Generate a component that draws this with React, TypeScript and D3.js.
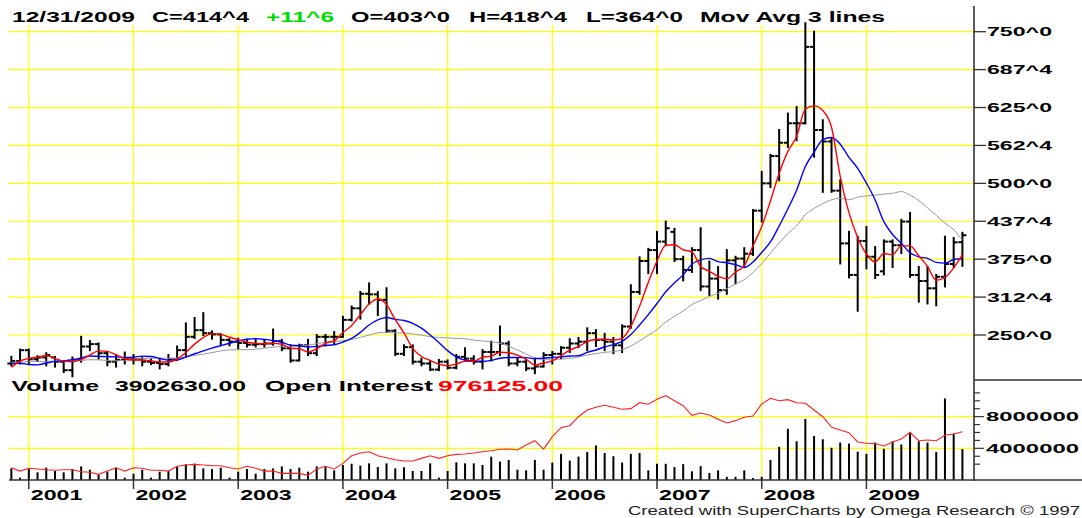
import React from 'react';
import * as d3 from 'd3';

const W = 1082;
const H = 518;

// ---- Data (monthly corn futures, Nov 2000 .. Dec 2009) ----
const opens = [203,207,225,210,213,213,206,192,209,231,235,220,206,209,
  210,210,206,204,202,210,225,247,258,253,251,242,
  239,237,234,235,236,240,228,208,233,220,247,247,
  247,275,294,318,317,308,257,219,230,206,203,193,
  206,196,214,211,206,222,222,236,203,206,195,198,
  217,219,229,236,239,253,242,239,233,264,321,372,
  390,404,420,375,357,390,330,343,324,373,376,384,
  455,500,545,567,599,599,725,588,569,488,401,349,
  405,379,355,404,398,437,349,339,327,346,367,403];
const highs = [214,226,226,215,220,214,207,213,247,240,236,221,217,221,
  217,212,210,209,217,231,269,278,286,256,251,243,
  244,242,242,242,259,242,233,234,242,250,250,255,
  280,297,321,335,321,327,258,233,233,211,206,209,
  208,217,228,215,225,239,264,239,211,209,211,220,
  222,230,243,245,261,258,252,245,266,332,378,392,
  420,437,425,379,393,426,371,362,390,379,393,456,
  519,547,588,615,626,764,750,604,574,505,420,412,
  428,395,406,406,440,451,362,362,349,412,410,418.5];
const lows = [200,203,204,207,200,198,189,182,206,225,211,200,198,203,
  203,200,202,195,200,209,214,245,250,244,233,233,
  228,231,231,231,234,225,206,208,217,217,233,236,
  247,274,277,302,283,255,217,217,203,200,192,192,
  195,195,208,203,195,208,217,200,200,192,187,198,
  203,212,222,230,225,232,225,220,222,262,318,352,
  352,398,372,340,354,324,316,310,318,335,362,382,
  437,494,505,560,571,599,544,486,486,368,345,290,
  360,344,350,362,385,346,305,302,299,330,362,364];
const closes = [207,225,210,213,217,206,192,209,231,235,220,206,209,210,
  210,206,204,202,210,225,247,258,253,251,242,239,
  237,234,235,236,240,228,208,233,220,247,247,247,
  275,294,318,317,308,257,219,230,206,203,193,206,
  196,214,211,206,222,222,236,203,206,195,198,217,
  219,229,236,239,253,242,239,233,264,321,372,390,
  404,426,375,357,390,330,343,324,373,376,384,455,
  500,545,567,599,599,725,588,569,488,401,349,405,
  379,349,404,398,437,349,339,327,346,367,402.75,414.5];
// closes before the first drawn bar (Jun 1999 .. Oct 2000), used only by the moving averages
const priorCloses = [215,200,212,210,196,196,204,214,216,222,228,218,190,181,185,193,203];
const volumes = [1470000,300000,1390000,970000,1560000,1140000,970000,1390000,1720000,1300000,710000,1050000,1560000,300000,
  800000,1300000,300000,1050000,1140000,1680000,1980000,2060000,1470000,1390000,1560000,300000,
  1050000,1390000,800000,1390000,1470000,1720000,1390000,1560000,1050000,1720000,1640000,1220000,
  1890000,2060000,1810000,2100000,1640000,2100000,1470000,1600000,1140000,1140000,2100000,300000,
  1140000,2230000,2100000,2100000,1900000,2950000,2330000,2540000,1300000,1220000,2540000,1300000,
  2200000,3300000,2460000,2950000,3530000,4360000,3410000,3000000,2200000,3300000,3410000,1220000,
  2050000,2050000,1630000,2000000,1100000,1750000,890000,1220000,400000,400000,1220000,200000,
  400000,2540000,4190000,6470000,4890000,7700000,5550000,5140000,4070000,4730000,4600000,3570000,
  3300000,4730000,3940000,4850000,4480000,5930000,4890000,4730000,3530000,10300000,5850000,3902630];
const openInterest = [454000,406000,446000,436000,425000,417000,425000,425000,396000,388000,359000,406000,454000,406000,
  454000,446000,417000,417000,406000,475000,494000,503000,494000,484000,484000,454000,
  436000,475000,446000,406000,406000,373000,373000,373000,344000,436000,475000,436000,
  518000,628000,667000,686000,628000,599000,570000,551000,551000,590000,628000,590000,
  628000,648000,653000,667000,686000,701000,721000,725000,711000,783000,846000,725000,
  904000,1034000,1063000,1193000,1290000,1330000,1359000,1330000,1301000,1310000,1396000,1373000,
  1445000,1498000,1425000,1353000,1214000,1247000,1218000,1156000,1102000,1136000,1185000,1203000,
  1377000,1460000,1425000,1440000,1396000,1387000,1290000,1193000,1040000,1001000,962000,827000,
  808000,804000,769000,827000,870000,967000,846000,856000,846000,924000,943000,976125];
const maPeriods = [18, 9, 4];
const maColors = ['#999999', '#0000ff', '#ff0000'];
const priceTicks = [250, 312.5, 375, 437.5, 500, 562.5, 625, 687.5, 750];
const volumeTicks = [4000000, 8000000];
const years = [2001, 2002, 2003, 2004, 2005, 2006, 2007, 2008, 2009];

const FONT = '"Liberation Sans", Arial, Helvetica, sans-serif';

function fmt8(v: number) {
  const a = Math.abs(v);
  const w = Math.floor(a + 1e-9);
  const f = Math.round((a - w) * 8);
  return `${v < 0 ? '-' : ''}${w}^${f}`;
}

export default function App() {
  const n = closes.length;
  const x = d3.scaleLinear().domain([0, n - 1]).range([11.35, 962.4]);
  const yP = d3.scaleLinear().domain([250, 750]).range([335, 31.7]);
  const yV = d3.scaleLinear().domain([0, 10000000]).range([480, 400.8]);
  const yOI = d3.scaleLinear().domain([300000, 1600000]).range([478.4, 388.6]);

  const allCloses = [...priorCloses, ...closes];
  const P = priorCloses.length;
  const mas = maPeriods.map((p) =>
    closes.map((_, i) => d3.mean(allCloses.slice(i + P - p + 1, i + P + 1)) as number)
  );
  const line = d3.line<number>().x((_, i) => x(i)).y((d) => yP(d)).curve(d3.curveMonotoneX);
  const oiLine = d3.line<number>().x((_, i) => x(i)).y((d) => yOI(d));

  const last = n - 1;
  const chg = closes[last] - closes[last - 1];
  const header = [
    { t: '12/31/2009', x: 12, len: 123, c: '#000' },
    { t: `C=${fmt8(closes[last])}`, x: 152, len: 97, c: '#000' },
    { t: `${chg >= 0 ? '+' : ''}${fmt8(chg)}`, x: 266, len: 68, c: '#00dd00' },
    { t: `O=${fmt8(opens[last])}`, x: 351, len: 99, c: '#000' },
    { t: `H=${fmt8(highs[last])}`, x: 469, len: 98, c: '#000' },
    { t: `L=${fmt8(lows[last])}`, x: 586, len: 97, c: '#000' },
    { t: 'Mov Avg 3 lines', x: 700, len: 185, c: '#000' },
  ];
  const volHeader = [
    { t: 'Volume', x: 11.5, len: 87.5, c: '#000' },
    { t: volumes[last].toFixed(2), x: 115, len: 131, c: '#000' },
    { t: 'Open Interest', x: 265, len: 168, c: '#000' },
    { t: openInterest[last].toFixed(2), x: 438, len: 125, c: '#ff0000' },
  ];

  const yearIdx = years.map((_, k) => 2 + 12 * k);
  const axisX = 974;
  const minorVol = d3.range(2, 12).map((m) => m * 1000000);

  return (
    <svg width={W} height={H} style={{ position: 'absolute', left: 0, top: 0, background: '#fff' }}
      fontFamily={FONT}>
      <rect x={0} y={0} width={W} height={H} fill="#fff" />
      {priceTicks.map((v) => (
        <line key={'pg' + v} x1={8} x2={axisX} y1={yP(v)} y2={yP(v)} stroke="#ffff00" strokeWidth={1.2} />
      ))}
      {volumeTicks.map((v) => (
        <line key={'vg' + v} x1={8} x2={axisX} y1={yV(v)} y2={yV(v)} stroke="#ffff00" strokeWidth={1.2} />
      ))}
      {yearIdx.map((i) => (
        <line key={'yg' + i} x1={x(i)} x2={x(i)} y1={25} y2={480} stroke="#ffff00" strokeWidth={1.2} />
      ))}
      {volumes.map((v, i) => (
        <line key={'v' + i} x1={x(i)} x2={x(i)} y1={480} y2={Math.min(yV(v), 478)} stroke="#000" strokeWidth={2} />
      ))}
      <path d={oiLine(openInterest) || ''} fill="none" stroke="#ff2020" strokeWidth={1.1} />
      {closes.map((c, i) => {
        const xi = x(i);
        return (
          <g key={'b' + i} stroke="#000" strokeWidth={2}>
            <line x1={xi} x2={xi} y1={yP(highs[i]) - 1} y2={yP(lows[i]) + 1} />
            <line x1={xi - 4} x2={xi} y1={yP(opens[i])} y2={yP(opens[i])} />
            <line x1={xi} x2={xi + 4} y1={yP(c)} y2={yP(c)} />
          </g>
        );
      })}
      {mas.map((m, k) => (
        <path key={'ma' + k} d={line(m) || ''} fill="none" stroke={maColors[k]}
          strokeWidth={k === 0 ? 1 : 1.4} />
      ))}
      <line x1={axisX} x2={axisX} y1={6} y2={481} stroke="#333" strokeWidth={1.6} />
      <line x1={axisX} x2={W} y1={380} y2={380} stroke="#333" strokeWidth={1.4} />
      <line x1={9} x2={W} y1={480} y2={480} stroke="#333" strokeWidth={1.6} />
      {priceTicks.map((v) => (
        <g key={'pt' + v}>
          <line x1={axisX} x2={986} y1={yP(v)} y2={yP(v)} stroke="#333" strokeWidth={1.3} />
          <text x={987} y={yP(v) + 4.5} fontSize={12.5} fontWeight="bold" textLength={65}
            lengthAdjust="spacingAndGlyphs" fill="#000">{fmt8(v)}</text>
        </g>
      ))}
      {minorVol.map((v) => (
        <line key={'mv' + v} x1={axisX} x2={volumeTicks.includes(v) ? 984 : 980} y1={yV(v)} y2={yV(v)}
          stroke="#333" strokeWidth={1.2} />
      ))}
      {volumeTicks.map((v) => (
        <text key={'vt' + v} x={986} y={yV(v) + 4.5} fontSize={12.5} fontWeight="bold" textLength={93}
          lengthAdjust="spacingAndGlyphs" fill="#000">{String(v)}</text>
      ))}
      {yearIdx.map((i, k) => (
        <g key={'yt' + i}>
          <line x1={x(i)} x2={x(i)} y1={480} y2={489} stroke="#333" strokeWidth={1.5} />
          <text x={x(i) + 2} y={500} fontSize={15} fontWeight="bold" textLength={51.5}
            lengthAdjust="spacingAndGlyphs" fill="#000">{years[k]}</text>
        </g>
      ))}
      {header.map((h) => (
        <text key={h.t} x={h.x} y={22} fontSize={14.5} fontWeight="bold" textLength={h.len}
          lengthAdjust="spacingAndGlyphs" fill={h.c}>{h.t}</text>
      ))}
      {volHeader.map((h) => (
        <text key={h.t} x={h.x} y={391} fontSize={14.5} fontWeight="bold" textLength={h.len}
          lengthAdjust="spacingAndGlyphs" fill={h.c}>{h.t}</text>
      ))}
      <text x={628} y={515} fontSize={13} textLength={452} lengthAdjust="spacingAndGlyphs" fill="#222">
        Created with SuperCharts by Omega Research © 1997
      </text>
    </svg>
  );
}
